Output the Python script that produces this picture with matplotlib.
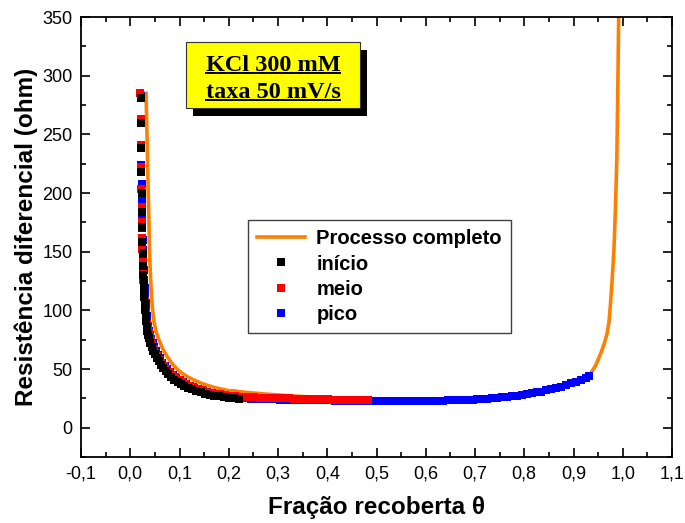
import matplotlib
matplotlib.use("Agg")
import matplotlib.pyplot as plt
from matplotlib.patches import Rectangle
from matplotlib.lines import Line2D
from matplotlib.ticker import MultipleLocator, FuncFormatter

# ---- data -------------------------------------------------------------
# Processo completo (full sweep)
comp_x = [0.032, 0.034, 0.036, 0.038, 0.039, 0.041, 0.043, 0.045, 0.048, 0.052,
          0.058, 0.066, 0.075, 0.085, 0.097, 0.110, 0.120, 0.135, 0.150, 0.165,
          0.180, 0.190, 0.200, 0.210, 0.225, 0.250, 0.280, 0.320, 0.360, 0.400,
          0.450, 0.500, 0.550, 0.600, 0.650, 0.700, 0.750, 0.800, 0.850, 0.900,
          0.933, 0.945, 0.955, 0.962, 0.968, 0.972, 0.975, 0.978, 0.982, 0.985,
          0.988, 0.990, 0.992]
comp_y = [285, 250, 210, 175, 150, 130, 114, 102, 91, 82.5,
          75, 67, 60.5, 54.5, 49, 45, 42.5, 39.5, 37, 35,
          33.3, 32.5, 31.5, 31.5, 30.5, 29.5, 28.5, 27.3, 26.3, 25.5,
          24.7, 24.0, 23.5, 23.3, 23.5, 24.2, 25.8, 28.3, 33, 39.5,
          45, 53, 63, 71, 80, 90, 105, 123, 151, 185,
          230, 290, 360]

# início
ini_x = [0.021, 0.021, 0.022, 0.022, 0.023, 0.023, 0.024, 0.024, 0.025, 0.025,
         0.026, 0.027, 0.027, 0.028, 0.029, 0.030, 0.031, 0.032, 0.033, 0.035,
         0.037, 0.039, 0.041, 0.044, 0.047, 0.050, 0.054, 0.058, 0.062, 0.067,
         0.072, 0.077, 0.083, 0.089, 0.096, 0.103, 0.110, 0.118, 0.126, 0.134,
         0.143, 0.152, 0.161, 0.170, 0.180, 0.190, 0.200, 0.210, 0.220]
ini_y = [281, 260, 238, 218, 200, 184, 171, 158, 149, 138,
         130, 123, 117, 111, 105, 100, 95, 90.5, 86, 82,
         79, 76, 72.5, 69, 65.5, 62.5, 59.5, 56.5, 53.5, 50.5,
         48, 45.5, 43, 41, 39, 37.2, 35.6, 34.1, 32.7, 31.4,
         30.2, 29.1, 28.1, 27.3, 26.6, 26.0, 25.5, 25.1, 24.8]

# meio
mei_x = [0.020, 0.021, 0.021, 0.022, 0.022, 0.023, 0.023, 0.024, 0.024, 0.025,
         0.026, 0.026, 0.027, 0.028, 0.029, 0.030, 0.031, 0.032, 0.034, 0.036,
         0.038, 0.040, 0.042, 0.045, 0.048, 0.051, 0.055, 0.059, 0.063, 0.068,
         0.073, 0.079, 0.085, 0.091, 0.098, 0.105, 0.112, 0.120, 0.128, 0.136,
         0.145, 0.154, 0.163, 0.172, 0.182, 0.192, 0.202, 0.212, 0.222, 0.232,
         0.242, 0.252, 0.262, 0.272, 0.282, 0.292, 0.302, 0.312, 0.322, 0.332,
         0.342, 0.352, 0.362, 0.372, 0.382, 0.392, 0.402, 0.412, 0.422, 0.432,
         0.442, 0.452, 0.462, 0.472, 0.482]
mei_y = [285, 263, 241, 222, 203, 188, 175, 162, 152, 141,
         133, 126, 120, 114, 108, 103, 98, 93.5, 88, 84,
         80.5, 77, 74, 70.5, 67, 64, 61, 58, 55, 52.5,
         50, 47.5, 45, 43, 41, 39, 37.3, 35.8, 34.4, 33.1,
         31.9, 30.8, 29.8, 29.0, 28.3, 27.7, 27.2, 26.8, 26.5, 26.3,
         26.1, 25.9, 25.7, 25.6, 25.4, 25.3, 25.1, 25.0, 24.9, 24.8,
         24.7, 24.6, 24.5, 24.4, 24.3, 24.2, 24.1, 24.0, 23.9, 23.8,
         23.7, 23.6, 23.5, 23.5, 23.4]

# pico
pic_x = [0.021, 0.022, 0.022, 0.023, 0.023, 0.024, 0.024, 0.025, 0.025, 0.026,
         0.027, 0.028, 0.029, 0.030, 0.031, 0.032, 0.033, 0.035, 0.037, 0.039,
         0.041, 0.043, 0.046, 0.049, 0.052, 0.056, 0.060, 0.065, 0.070, 0.075,
         0.081, 0.087, 0.093, 0.100, 0.107, 0.114, 0.122, 0.130, 0.138, 0.147,
         0.156, 0.165, 0.175, 0.185, 0.195, 0.205, 0.215, 0.225,
         0.235, 0.245, 0.255, 0.265, 0.275, 0.285, 0.295, 0.305, 0.315, 0.325,
         0.335, 0.345, 0.355, 0.365, 0.375, 0.385, 0.395, 0.405, 0.415, 0.425,
         0.435, 0.445, 0.455, 0.465, 0.475, 0.485, 0.495, 0.505, 0.515, 0.525,
         0.535, 0.545, 0.555, 0.565, 0.575, 0.585, 0.595, 0.605, 0.615, 0.625,
         0.635, 0.645, 0.655, 0.665, 0.675, 0.685, 0.695, 0.705, 0.715, 0.725,
         0.735, 0.745, 0.755, 0.765, 0.775, 0.785, 0.795, 0.805, 0.815, 0.825,
         0.835, 0.845, 0.855, 0.865, 0.875, 0.885, 0.895, 0.905, 0.915, 0.925,
         0.932]
pic_y = [283, 241, 224, 208, 194, 181, 170, 160, 151, 142,
         134, 126, 119, 112, 106, 100.5, 95.5, 91, 86.5, 82.5,
         79, 75.5, 72, 68.5, 65.5, 62, 59, 55.5, 52.5, 50,
         47.2, 44.8, 42.6, 40.5, 38.6, 37, 35.4, 34, 32.7, 31.4,
         30.3, 29.3, 28.4, 27.6, 26.9, 26.3, 25.8, 25.3,
         25.0, 24.8, 24.6, 24.4, 24.3, 24.2, 24.1, 24.0, 23.9, 23.8,
         23.7, 23.6, 23.5, 23.4, 23.4, 23.3, 23.2, 23.2, 23.1, 23.1,
         23.0, 23.0, 22.9, 22.9, 22.8, 22.8, 22.8, 22.7, 22.7, 22.7,
         22.7, 22.7, 22.7, 22.7, 22.7, 22.8, 22.8, 22.9, 22.9, 23.0,
         23.1, 23.2, 23.3, 23.4, 23.6, 23.8, 24.0, 24.2, 24.5, 24.8,
         25.1, 25.5, 25.9, 26.3, 26.8, 27.3, 27.9, 28.5, 29.2, 30.0,
         30.8, 31.7, 32.7, 33.8, 35.0, 36.3, 37.7, 39.2, 40.8, 42.5,
         43.8]

x_ticks = [-0.1, 0.0, 0.1, 0.2, 0.3, 0.4, 0.5, 0.6, 0.7, 0.8, 0.9, 1.0, 1.1]
y_ticks = [0, 50, 100, 150, 200, 250, 300, 350]

# ---- figure -----------------------------------------------------------
plt.rcParams['font.family'] = ['Liberation Sans', 'DejaVu Sans']

fig = plt.figure(figsize=(6.85, 5.23), dpi=100)
ax = fig.add_axes([81 / 685, 1 - 457 / 523, 591 / 685, 440 / 523])

orange = '#FF8000'
ms = 6.0
ax.plot(comp_x, comp_y, color=orange, lw=2.6, zorder=2,
        solid_joinstyle='round', label='Processo completo')
ax.plot(pic_x, pic_y, 's', color='#0000FF', ms=ms, mew=0, zorder=3, label='pico')
ax.plot(mei_x, mei_y, 's', color='#FF0000', ms=ms, mew=0, zorder=4, label='meio')
ax.plot(ini_x, ini_y, 's', color='black', ms=ms, mew=0, zorder=5, label='início')

ax.set_xlim(-0.1, 1.1)
ax.set_ylim(-25, 350)
ax.set_xticks(x_ticks)
ax.set_yticks(y_ticks)
ax.xaxis.set_minor_locator(MultipleLocator(0.05))
ax.yaxis.set_minor_locator(MultipleLocator(25))
ax.xaxis.set_major_formatter(FuncFormatter(lambda v, p: f"{v:.1f}".replace('.', ',').replace('-0,0', '0,0')))
ax.tick_params(which='both', direction='in', top=True, right=True,
               width=1.2, labelsize=13, colors='black')
ax.tick_params(which='major', length=6.5)
ax.tick_params(which='minor', length=3.5)
ax.tick_params(axis='x', pad=6)
ax.tick_params(axis='y', pad=6)
for s in ax.spines.values():
    s.set_linewidth(1.3)

ax.set_xlabel('Fração recoberta θ', fontsize=17.5, fontweight='bold', labelpad=9.5)
ax.set_ylabel('Resistência diferencial (ohm)', fontsize=17.5, fontweight='bold', labelpad=3)

handles, labels = ax.get_legend_handles_labels()
order = [0, 3, 2, 1]
leg = ax.legend([handles[i] for i in order], [labels[i] for i in order],
                loc='upper left', bbox_to_anchor=(0.2826, 0.5386), borderaxespad=0,
                prop={'family': 'Liberation Sans', 'weight': 'bold', 'size': 14.5},
                handlelength=2.4, handletextpad=0.55, borderpad=0.45,
                labelspacing=0.32, numpoints=1, fancybox=False, framealpha=1,
                edgecolor='#404040')
leg.get_frame().set_linewidth(1.0)

# ---- yellow annotation box with drop shadow ---------------------------
bx0, bx1 = (186 - 81) / 591, (360 - 81) / 591
by0, by1 = (457 - 108) / 440, (457 - 42) / 440
dx, dy = 7 / 591, 8 / 440
ax.add_patch(Rectangle((bx0 + dx, by0 - dy), bx1 - bx0, by1 - by0,
                       transform=ax.transAxes, facecolor='black',
                       edgecolor='none', zorder=6, clip_on=False))
ax.add_patch(Rectangle((bx0, by0), bx1 - bx0, by1 - by0,
                       transform=ax.transAxes, facecolor='#FFFF00',
                       edgecolor='#333333', lw=0.8, zorder=7, clip_on=False))

serif = {'family': ['Liberation Serif', 'DejaVu Serif'], 'weight': 'bold', 'size': 17.5}
cx = (bx0 + bx1) / 2
t1 = ax.text(cx, (457 - 70.7) / 440, 'KCl 300 mM', transform=ax.transAxes,
             ha='center', va='baseline', fontdict=serif, zorder=8)
t2 = ax.text(cx, (457 - 98) / 440, 'taxa 50 mV/s', transform=ax.transAxes,
             ha='center', va='baseline', fontdict=serif, zorder=8)

# underline each line of the box text
fig.canvas.draw()
r = fig.canvas.get_renderer()
inv = ax.transAxes.inverted()
for t, base in ((t1, 70.7), (t2, 98)):
    bb = t.get_window_extent(r)
    ypix = 523 - (base + 2.3)
    (ax0, ay), (ax1, _) = inv.transform([(bb.x0, ypix), (bb.x1, ypix)])
    ax.add_line(Line2D([ax0, ax1], [ay, ay], transform=ax.transAxes,
                       color='black', lw=1.4, zorder=8, clip_on=False))

fig.savefig('out.png', dpi=100)
